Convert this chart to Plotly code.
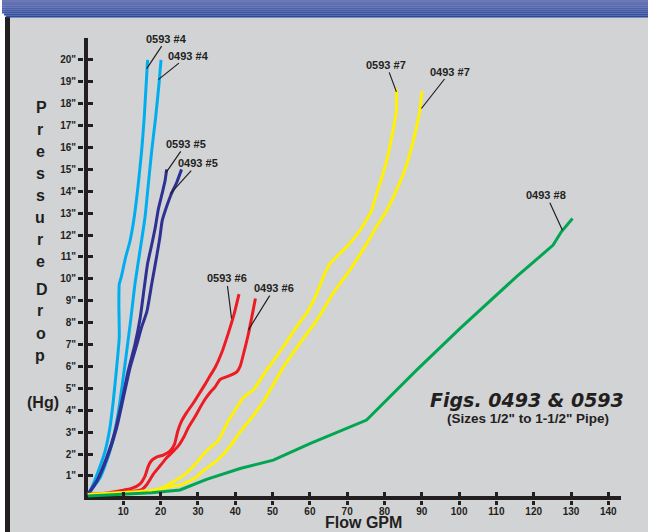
import plotly.graph_objects as go

# ---------------- data ----------------
flow_0593_4 = [0.5, 1.5, 3.3, 5.1, 6.4, 7.3, 8.2, 8.9, 8.8, 8.9, 9.4, 10.6, 11.8, 12.9, 14.0, 14.9, 15.6, 16.5]
drop_0593_4 = [0.15, 0.46, 1.22, 2.13, 3.2, 4.42, 5.95, 7.32, 8.84, 9.76, 10.06, 10.98, 11.74, 12.8, 14.33, 15.85, 17.38, 20.0]

flow_0493_4 = [0.5, 3.75, 6.4, 8.4, 9.73, 10.9, 12.05, 13.1, 14.46, 15.8, 16.7, 17.6, 18.66, 19.55, 20.1]
drop_0493_4 = [0.15, 0.91, 2.13, 3.66, 5.18, 6.7, 8.23, 9.76, 11.28, 12.8, 14.33, 15.85, 17.38, 18.9, 20.0]

flow_0593_5 = [0.5, 2.9, 5.5, 7.8, 9.6, 11.3, 13.1, 14.5, 15.6, 16.5, 17.4, 18.5, 19.4, 20.4, 21.2, 21.6]
drop_0593_5 = [0.15, 0.76, 1.83, 3.05, 4.4, 5.8, 7.0, 8.2, 9.6, 10.7, 11.4, 12.3, 13.2, 13.9, 14.5, 15.0]

flow_0493_5 = [0.5, 3.3, 6.0, 8.2, 10.0, 11.8, 13.6, 14.9, 16.3, 17.6, 18.9, 19.8, 20.4, 21.6, 22.9, 24.3, 25.6]
drop_0493_5 = [0.15, 0.9, 2.0, 3.2, 4.57, 5.95, 7.0, 7.8, 8.5, 9.76, 11.0, 11.9, 12.65, 13.3, 13.9, 14.4, 15.0]

flow_0593_6 = [0.5, 5.1, 9.6, 12.2, 14.5, 15.8, 16.7, 17.6, 18.9, 20.7, 22.5, 23.7, 24.6, 25.6, 27.0, 28.8, 30.5, 31.9, 33.2, 34.6, 36.3, 38.1, 39.7, 41.0]
drop_0593_6 = [0.15, 0.21, 0.34, 0.43, 0.64, 0.99, 1.45, 1.71, 1.86, 1.95, 2.13, 2.44, 3.05, 3.5, 3.9, 4.34, 4.8, 5.18, 5.56, 5.95, 6.6, 7.5, 8.4, 9.3]

flow_0493_6 = [0.5, 5.1, 11.3, 14.9, 16.3, 18.0, 19.8, 21.6, 23.4, 24.7, 26.1, 27.4, 29.2, 30.5, 31.9, 33.2, 34.6, 35.9, 37.2, 38.8, 40.4, 41.3, 42.4, 43.5, 44.6, 45.4]
drop_0493_6 = [0.15, 0.18, 0.27, 0.38, 0.61, 1.07, 1.45, 1.83, 2.13, 2.36, 2.74, 3.2, 3.7, 4.1, 4.5, 4.8, 5.07, 5.4, 5.5, 5.6, 5.75, 6.0, 6.7, 7.47, 8.4, 9.1]

flow_0593_7 = [0.5, 8.7, 15.8, 19.4, 22.9, 26.5, 29.2, 31.4, 33.7, 35.4, 38.1, 42.3, 44.8, 48.4, 52.9, 56.4, 59.6, 61.8, 64.0, 65.4, 69.8, 73.4, 75.2, 76.5, 77.9, 79.6, 81.0, 82.3, 83.2, 83.2]
drop_0593_7 = [0.15, 0.18, 0.23, 0.38, 0.69, 1.07, 1.52, 1.98, 2.36, 2.6, 3.5, 4.6, 4.92, 5.83, 6.9, 7.8, 8.57, 9.33, 10.25, 10.7, 11.46, 12.2, 12.7, 13.1, 13.9, 14.8, 15.7, 16.8, 17.7, 18.7]

flow_0493_7 = [0.5, 8.7, 17.6, 21.2, 25.6, 29.2, 31.9, 35.4, 39.0, 40.8, 44.4, 47.9, 52.9, 57.3, 61.8, 66.2, 70.7, 74.7, 77.9, 80.5, 83.2, 85.7, 87.7, 89.5, 90.0]
drop_0493_7 = [0.15, 0.23, 0.34, 0.46, 0.61, 0.91, 1.3, 1.75, 2.44, 2.9, 3.66, 4.5, 5.98, 7.05, 8.1, 9.33, 10.4, 11.46, 12.4, 13.1, 14.05, 15.1, 16.3, 17.7, 18.57]

flow_0493_8 = [0.5, 8.7, 17.6, 25.2, 32.3, 41.3, 50.2, 60.0, 75.2, 88.6, 100.2, 115.4, 125.2, 127.4, 130.4]
drop_0493_8 = [0.08, 0.15, 0.23, 0.36, 0.84, 1.34, 1.72, 2.48, 3.55, 5.83, 7.73, 10.1, 11.54, 12.15, 12.76]

y_tick_vals = list(range(1, 21))
y_tick_text = [f'{v}"' for v in y_tick_vals]
x_tick_vals = list(range(10, 150, 10))
x_tick_text = [str(v) for v in x_tick_vals]

label_names = ["0593 #4", "0493 #4", "0593 #5", "0493 #5", "0593 #6", "0493 #6", "0593 #7", "0493 #7", "0493 #8"]
label_flow = [16.26, 19.37, 21.4, 22.5, 39.0, 43.5, 83.2, 89.9, 127.7]
label_drop = [19.6, 19.1, 14.84, 13.87, 8.19, 7.66, 18.54, 17.78, 12.22]
label_dx = [20, 30, 20, 28, -5, 26, -10, 29, -16]
label_dy = [-30, -24, -29, -31, -40, -42, -27, -37, -35]

# ---------------- styling ----------------
INK = "#231f20"
BG = "#d2d3d5"
W, H = 648, 532
ML, MR, MT, MB = 84, 27, 38, 32
PW, PH = W - ML - MR, H - MT - MB


def px(xp):
    return (xp - ML) / PW


def py(yp):
    return (H - MB - yp) / PH


series = [
    (flow_0593_4, drop_0593_4, "#00aeef", "spline"),
    (flow_0493_4, drop_0493_4, "#00aeef", "spline"),
    (flow_0593_5, drop_0593_5, "#2e3192", "spline"),
    (flow_0493_5, drop_0493_5, "#2e3192", "spline"),
    (flow_0593_6, drop_0593_6, "#ed1c24", "spline"),
    (flow_0493_6, drop_0493_6, "#ed1c24", "spline"),
    (flow_0593_7, drop_0593_7, "#fff200", "spline"),
    (flow_0493_7, drop_0493_7, "#fff200", "spline"),
    (flow_0493_8, drop_0493_8, "#00a651", "linear"),
]

fig = go.Figure()
for xs, ys, col, shp in series:
    line = dict(color=col, width=3, shape=shp)
    if shp == "spline":
        line["smoothing"] = 0.5
    fig.add_trace(go.Scatter(x=xs, y=ys, mode="lines", line=line,
                             showlegend=False, hoverinfo="skip"))

# dummy trace for overlay axes (inside half of crossing ticks)
fig.add_trace(go.Scatter(x=[None], y=[None], xaxis="x2", yaxis="y2",
                         showlegend=False, hoverinfo="skip"))

xr = [-0.55, 143.4]
yr = [-0.1, 21.0]
tickfont = dict(family="Liberation Sans", size=10, color=INK, weight="bold")

fig.update_layout(
    width=W, height=H, autosize=False,
    margin=dict(l=ML, r=MR, t=MT, b=MB, pad=0),
    paper_bgcolor=BG, plot_bgcolor=BG,
    xaxis=dict(range=xr, tickvals=x_tick_vals, ticktext=x_tick_text,
               ticks="outside", ticklen=4, tickwidth=3, tickcolor=INK,
               ticklabelstandoff=-2,
               tickfont=tickfont, showgrid=False, showline=False,
               zeroline=True, zerolinewidth=4, zerolinecolor=INK, fixedrange=True),
    yaxis=dict(range=yr, tickvals=y_tick_vals, ticktext=y_tick_text,
               ticks="outside", ticklen=5, tickwidth=3, tickcolor=INK,
               tickfont=tickfont, showgrid=False, showline=False,
               zeroline=True, zerolinewidth=4, zerolinecolor=INK, fixedrange=True),
    xaxis2=dict(range=xr, overlaying="x", anchor="y", side="bottom",
                tickvals=x_tick_vals, ticks="inside", ticklen=8, tickwidth=3,
                tickcolor=INK, showticklabels=False, showgrid=False,
                zeroline=False, showline=False, fixedrange=True),
    yaxis2=dict(range=yr, overlaying="y", anchor="x", side="left",
                tickvals=y_tick_vals, ticks="inside", ticklen=9, tickwidth=3,
                tickcolor=INK, showticklabels=False, showgrid=False,
                zeroline=False, showline=False, fixedrange=True),
)

# ---------------- decorations (frame) ----------------
shapes = []
shapes.append(dict(type="rect", xref="paper", yref="paper", x0=px(0), x1=px(5),
                   y0=py(532), y1=py(0), fillcolor="white", line_width=0, layer="below"))
shapes.append(dict(type="rect", xref="paper", yref="paper", x0=px(5), x1=px(10),
                   y0=py(532), y1=py(17), fillcolor=INK, line_width=0, layer="below"))
n = 9
top_c = (108, 120, 184)
bot_c = (44, 74, 156)
for i in range(n):
    t = i / (n - 1)
    c = tuple(round(top_c[k] + (bot_c[k] - top_c[k]) * t) for k in range(3))
    y0 = 17.5 * i / n
    y1 = 17.5 * (i + 1) / n
    x0 = 2 if i < n - 2 else 2 + (i - (n - 3)) * 2
    shapes.append(dict(type="rect", xref="paper", yref="paper", x0=px(x0), x1=px(648),
                       y0=py(y1), y1=py(y0), fillcolor=f"rgb{c}", line_width=0, layer="below"))
fig.update_layout(shapes=shapes)

# ---------------- texts ----------------
ann = []
for name, fx, fy, dx, dy in zip(label_names, label_flow, label_drop, label_dx, label_dy):
    ann.append(dict(x=fx, y=fy, xref="x", yref="y", text=name, showarrow=True,
                    arrowhead=0, arrowwidth=1.2, arrowcolor=INK, ax=dx, ay=dy,
                    standoff=0, startstandoff=0,
                    font=dict(family="Liberation Sans", size=11, color=INK, weight="bold")))

# vertical axis title, stacked letters
axis_letters = ["P", "r", "e", "s", "s", "u", "r", "e", "D", "r", "o", "p", "(Hg)"]
letter_y = [107, 129, 151, 173, 195, 217, 239, 261, 289, 311, 333, 355, 402]
letter_x = [41, 40, 40, 40, 40, 40, 40, 40, 42, 40, 41, 40, 43]
for ch, lx, ly in zip(axis_letters, letter_x, letter_y):
    ann.append(dict(x=px(lx), y=py(ly), xref="paper", yref="paper", text=ch,
                    showarrow=False, xanchor="center", yanchor="middle",
                    font=dict(family="Liberation Sans", size=16, color=INK, weight="bold")))

ann.append(dict(x=px(363), y=py(532), xref="paper", yref="paper", text="Flow GPM",
                showarrow=False, xanchor="center", yanchor="bottom", borderpad=0,
                font=dict(family="Liberation Sans", size=16, color=INK, weight="bold")))
ann.append(dict(x=px(527), y=py(400), xref="paper", yref="paper", text="Figs. 0493 & 0593",
                showarrow=False, xanchor="center", yanchor="middle",
                font=dict(family="DejaVu Sans", size=19, color=INK, weight="bold", style="italic")))
ann.append(dict(x=px(528), y=py(418), xref="paper", yref="paper",
                text='(Sizes 1/2" to 1-1/2" Pipe)',
                showarrow=False, xanchor="center", yanchor="middle",
                font=dict(family="Liberation Sans", size=13.5, color=INK, weight="bold")))
fig.update_layout(annotations=ann)

fig.write_html("out.html", config={"displayModeBar": False},
               post_script="document.body.style.margin='0';document.body.style.overflow='hidden';")
